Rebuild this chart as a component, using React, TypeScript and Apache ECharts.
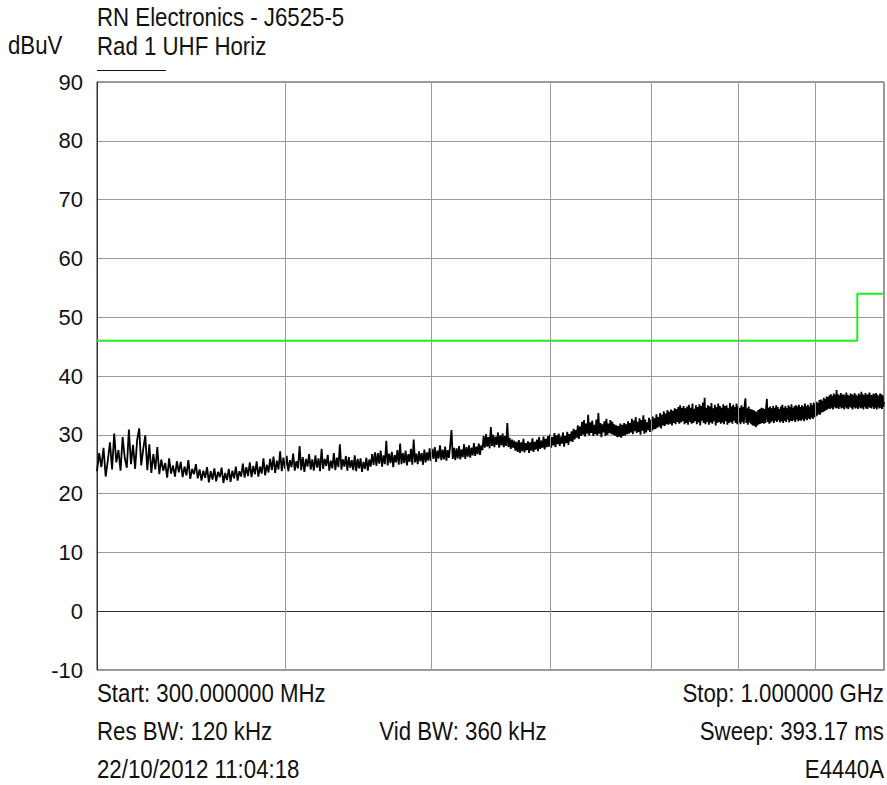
import React, { useEffect, useRef } from "react";
import * as echarts from "echarts";

// Measured trace (dBuV), one value every STEP_MHZ starting at START_MHZ
const START_MHZ = 300;
const STEP_MHZ = 1;
const traceDbuv: number[] = [
  23.8, 26.9, 24.5, 27.8, 22.9, 25.6, 28.7, 24.1, 30.2, 25.3, 27.4, 23.9, 29.6, 26.1, 24.4, 30.9, 25.0, 28.3, 24.2, 29.1,
  31.1, 24.8, 27.6, 29.9, 24.0, 28.4, 23.5, 26.7, 24.1, 27.9, 23.3, 25.8, 23.9, 25.2, 22.7, 26.0, 23.4, 24.8, 22.9, 25.5,
  23.6, 25.4, 22.8, 24.6, 23.1, 25.7, 22.5, 24.2, 23.3, 25.0, 22.6, 24.1, 22.2, 23.9, 22.7, 24.5, 21.9, 23.8, 22.4, 24.3,
  22.1, 23.7, 22.8, 24.4, 21.8, 23.5, 22.3, 24.2, 22.0, 23.9, 22.6, 24.6, 22.2, 23.8, 22.9, 25.1, 22.7, 24.5, 23.0, 25.3,
  22.8, 24.7, 23.3, 25.5, 22.9, 24.6, 23.4, 26.0, 23.1, 24.9, 23.6, 25.9, 24.0, 26.3, 23.5, 25.6, 24.1, 27.2, 23.8, 26.1,
  24.2, 26.4, 23.8, 25.7, 24.5, 26.8, 23.9, 25.5, 24.3, 28.1, 24.0, 26.2, 23.7, 25.9, 24.6, 26.7, 24.1, 25.8, 23.9, 26.5,
  24.4, 26.0, 23.8, 27.6, 24.2, 25.9, 24.7, 26.6, 23.9, 25.6, 24.3, 26.9, 24.0, 26.1, 24.5, 28.4, 24.1, 25.8, 24.6, 26.4,
  23.9, 26.2, 24.4, 25.7, 24.0, 26.5, 23.8, 25.9, 24.3, 26.0, 23.7, 25.4, 24.2, 26.1, 23.9, 25.8, 24.6, 26.7, 24.9, 27.0,
  24.7, 26.9, 25.1, 27.3, 24.6, 26.5, 25.0, 29.0, 24.8, 26.8, 25.2, 27.1, 24.5, 26.6, 25.3, 27.4, 24.9, 28.5, 25.0, 26.9,
  25.2, 27.3, 24.8, 26.7, 25.4, 27.6, 24.9, 29.2, 25.3, 26.8, 25.0, 27.2, 25.5, 26.9, 24.9, 27.5, 25.3, 27.0, 25.6, 27.7,
  25.5, 27.6, 25.9, 27.9, 25.4, 27.3, 26.0, 28.2, 25.7, 27.5, 25.8, 28.0, 25.6, 27.4, 26.1, 28.3, 30.8, 25.9, 27.8, 25.7,
  27.7, 26.0, 28.1, 25.8, 27.5, 26.2, 28.4, 25.9, 27.9, 26.3, 28.2, 26.1, 27.8, 26.5, 28.6, 26.4, 28.0, 26.7, 28.5, 26.6,
  28.2, 27.4, 29.8, 27.8, 30.1, 28.0, 29.6, 27.7, 31.3, 28.1, 30.0, 27.9, 29.7, 28.3, 30.4, 27.8, 29.9, 28.2, 30.2, 27.9,
  29.8, 28.1, 32.0, 27.9, 29.5, 27.6, 29.2, 27.8, 29.0, 27.3, 28.8, 27.1, 29.1, 26.9, 28.7, 27.2, 29.3, 27.0, 28.6, 27.4,
  28.9, 26.9, 28.7, 27.3, 29.4, 27.1, 28.8, 27.5, 29.2, 27.2, 29.6, 27.6, 29.0, 27.8, 29.7, 27.5, 29.3, 27.9, 29.8, 28.0,
  30.1, 27.8, 29.6, 28.2, 30.3, 27.9, 29.9, 28.4, 30.2, 28.1, 29.7, 28.5, 30.4, 28.0, 29.8, 28.6, 30.5, 28.3, 30.1, 28.9,
  30.6, 28.8, 31.0, 29.2, 30.8, 29.5, 31.6, 29.3, 31.4, 29.8, 32.2, 30.0, 32.5, 29.7, 31.9, 30.2, 33.4, 29.9, 32.1, 30.3,
  32.4, 29.8, 31.7, 30.1, 32.6, 29.9, 33.7, 30.2, 32.0, 29.6, 31.8, 30.4, 32.3, 29.8, 32.7, 30.0, 31.9, 30.3, 32.5, 30.1,
  32.2, 30.0, 31.8, 29.8, 31.6, 29.6, 31.5, 29.7, 31.9, 29.5, 31.7, 29.8, 32.0, 29.9, 31.8, 30.1, 32.3, 30.2, 32.0, 30.4,
  32.7, 30.1, 32.4, 30.6, 33.0, 30.3, 32.2, 30.5, 32.8, 30.0, 32.5, 30.7, 33.3, 30.2, 32.6, 30.4, 32.1, 30.8, 32.9, 30.5,
  32.6, 30.6, 33.1, 30.9, 32.8, 31.0, 33.5, 31.2, 33.0, 31.4, 33.7, 31.1, 33.4, 31.6, 34.0, 31.5, 33.6, 31.8, 34.2, 31.7,
  33.9, 31.9, 34.3, 31.6, 34.1, 32.0, 34.5, 31.8, 34.4, 32.2, 34.7, 31.9, 35.0, 32.1, 34.6, 32.3, 34.9, 31.8, 34.5, 32.0,
  34.8, 31.7, 35.1, 32.2, 34.6, 31.9, 35.3, 32.0, 34.4, 32.3, 35.0, 31.8, 34.7, 32.1, 35.2, 31.6, 34.9, 32.4, 35.5, 32.0,
  36.3, 31.8, 34.6, 32.2, 35.0, 31.7, 34.8, 32.1, 35.4, 31.9, 34.5, 32.3, 35.1, 31.6, 34.7, 32.0, 35.3, 32.2, 34.9, 31.9,
  34.6, 32.1, 35.2, 31.8, 34.9, 32.3, 35.0, 31.7, 34.5, 32.0, 35.4, 32.2, 34.8, 31.9, 35.1, 32.4, 34.7, 32.0, 35.3, 31.8,
  34.9, 32.1, 34.6, 31.8, 35.0, 32.2, 34.7, 31.9, 35.1, 36.2, 32.0, 34.5, 31.7, 34.8, 32.1, 34.4, 31.8, 34.3, 31.6, 34.2,
  31.5, 34.0, 31.3, 33.9, 31.6, 34.2, 31.8, 34.4, 31.9, 34.6, 32.0, 34.5, 31.9, 34.4, 32.0, 34.7, 36.1, 32.2, 34.6, 31.9,
  34.8, 32.1, 34.5, 32.3, 34.9, 32.0, 34.6, 32.4, 35.0, 32.2, 34.7, 32.5, 34.4, 32.1, 34.8, 32.3, 35.1, 32.0, 34.6, 32.4,
  34.9, 32.2, 34.5, 32.6, 35.0, 32.1, 34.7, 32.4, 35.2, 32.3, 34.6, 32.5, 34.9, 32.2, 35.0, 32.6, 34.8, 32.3, 35.1, 32.5,
  34.7, 32.4, 35.0, 32.6, 34.8, 32.3, 35.3, 32.7, 34.9, 32.5, 35.1, 32.8, 34.8, 32.6, 35.4, 32.9, 35.0, 32.7, 35.5, 33.0,
  35.2, 33.1, 35.6, 33.3, 35.4, 33.5, 35.9, 33.4, 36.0, 33.8, 35.8, 33.9, 36.3, 34.0, 36.1, 34.2, 36.5, 34.3, 36.4, 34.5,
  36.7, 34.4, 36.9, 34.6, 36.6, 34.3, 37.0, 34.7, 36.8, 34.5, 37.6, 34.6, 36.9, 34.4, 36.7, 34.8, 37.1, 34.5, 36.8, 34.6,
  36.9, 34.3, 36.7, 34.7, 37.2, 34.5, 36.8, 34.4, 36.6, 34.8, 37.0, 34.6, 36.9, 34.3, 36.7, 34.7, 37.1, 34.5, 36.8, 34.6,
  36.6, 34.4, 37.0, 34.7, 36.8, 34.5, 37.3, 34.6, 36.9, 34.3, 36.7, 34.8, 37.1, 34.5, 36.8, 34.4, 36.9, 34.7, 37.2, 34.6,
  36.8, 34.5, 36.7, 34.8, 37.0, 34.4, 36.9, 34.6, 37.1, 34.3, 36.8, 34.7, 36.6, 34.5, 37.0, 34.6, 36.9, 34.4, 36.7, 34.8,
  35.6,
];

// Limit line (dBuV)
const limitFreqs = [300, 960, 960, 1000];
const limitValues = [46, 46, 54, 54];

// Axes
const freqMin = 300;
const freqMax = 1000;
const gridFreqs = [400, 500, 600, 700, 800, 900];
const yMin = -10;
const yMax = 90;
const yStep = 10;

// Texts
const titleText = "RN Electronics - J6525-5";
const unitText = "dBuV";
const traceLabel = "Rad 1 UHF Horiz";
const footerLeft = ["Start: 300.000000 MHz", "Res BW: 120 kHz", "22/10/2012 11:04:18"];
const footerMid = ["", "Vid BW: 360 kHz", ""];
const footerRight = ["Stop: 1.000000 GHz", "Sweep: 393.17 ms", "E4440A"];

const FONT = "'Liberation Sans', Arial, sans-serif";

export default function App() {
  const ref = useRef<HTMLDivElement>(null);
  useEffect(() => {
    if (!ref.current) return;
    const chart = echarts.init(ref.current, undefined, { renderer: "svg" });
    const traceData = traceDbuv.map((v, i) => [START_MHZ + i * STEP_MHZ, v]);
    const limitData = limitFreqs.map((f, i) => [f, limitValues[i]]);

    const textStyle = (extra: any) => ({
      fontSize: 25,
      fontFamily: FONT,
      fill: "#111",
      verticalAlign: "middle",
      ...extra,
    });
    const rowsY = [694, 732, 770];
    const graphics: any[] = [
      { type: "text", x: 97, y: 18, scaleX: 0.89, style: textStyle({ text: titleText, align: "left" }) },
      { type: "text", x: 8, y: 46, scaleX: 0.89, style: textStyle({ text: unitText, align: "left" }) },
      { type: "text", x: 97, y: 47, scaleX: 0.89, style: textStyle({ text: traceLabel, align: "left" }) },
      { type: "line", shape: { x1: 97, y1: 70.5, x2: 166, y2: 70.5 }, style: { stroke: "#111", lineWidth: 1 } },
    ];
    rowsY.forEach((y, i) => {
      if (footerLeft[i]) graphics.push({ type: "text", x: 97, y, scaleX: 0.89, style: textStyle({ text: footerLeft[i], align: "left" }) });
      if (footerMid[i]) graphics.push({ type: "text", x: 463, y, scaleX: 0.89, style: textStyle({ text: footerMid[i], align: "center" }) });
      if (footerRight[i]) graphics.push({ type: "text", x: 884, y, scaleX: 0.89, style: textStyle({ text: footerRight[i], align: "right" }) });
    });

    chart.setOption({
      animation: false,
      backgroundColor: "#fff",
      grid: { left: 97, right: 3, top: 82, bottom: 115, show: true, borderColor: "#333", borderWidth: 1, backgroundColor: "transparent" },
      xAxis: {
        type: "log",
        logBase: 10,
        min: freqMin,
        max: freqMax,
        axisLine: { show: true, lineStyle: { color: "#333", width: 1 } },
        axisTick: { show: false },
        axisLabel: { show: false },
        splitLine: { show: false },
      },
      yAxis: {
        type: "value",
        min: yMin,
        max: yMax,
        interval: yStep,
        axisLine: { show: true, lineStyle: { color: "#333", width: 1 } },
        axisTick: { show: false },
        axisLabel: { fontSize: 22, fontFamily: FONT, color: "#111", margin: 14 },
        splitLine: { show: true, lineStyle: { color: "#9a9a9a", width: 1 } },
      },
      graphic: graphics,
      series: [
        {
          type: "line",
          data: [],
          z: 1,
          silent: true,
          markLine: {
            silent: true,
            symbol: "none",
            label: { show: false },
            lineStyle: { color: "#9a9a9a", type: "solid", width: 1 },
            data: gridFreqs.map((f) => ({ xAxis: f })),
          },
        },
        {
          type: "line",
          data: limitData,
          z: 2,
          showSymbol: false,
          symbol: "none",
          lineStyle: { color: "#1ef01e", width: 2 },
          silent: true,
        },
        {
          type: "line",
          data: traceData,
          z: 3,
          showSymbol: false,
          symbol: "none",
          lineStyle: { color: "#000", width: 1.8 },
          silent: true,
        },
      ],
    });
    return () => chart.dispose();
  }, []);
  return <div ref={ref} style={{ position: "absolute", left: 0, top: 0, width: 887, height: 785 }} />;
}
